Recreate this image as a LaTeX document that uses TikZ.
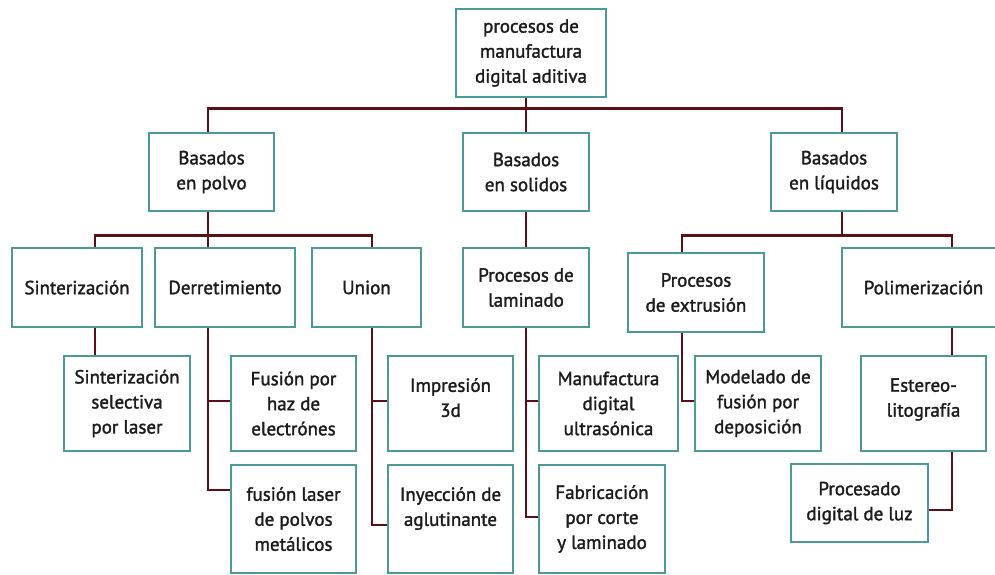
\documentclass[tikz,border=0pt]{standalone}
\usepackage{fontspec}
\setmainfont{PT Sans}[FakeBold=1.6]
\definecolor{boxteal}{HTML}{4A9B98}
\definecolor{linered}{HTML}{5A1016}
\definecolor{txt}{HTML}{1C1C1C}
\begin{document}
\begin{tikzpicture}[x=1pt,y=-1pt,
  box/.style={draw=boxteal, line width=2.6pt, fill=white, inner sep=0pt, align=center,
    text=txt, font=\fontsize{19}{25}\selectfont},
  conn/.style={draw=linered, line width=2.6pt}]
\useasboundingbox[fill=white] (0,0) rectangle (995,575);
% nodes
\node[box, minimum width=150, minimum height=88] (root) at (531,53) {procesos de\\manufactura\\digital aditiva};
\node[box, minimum width=125, minimum height=78] (polvo) at (211.5,172) {Basados\\en polvo};
\node[box, minimum width=126, minimum height=78] (solidos) at (526,172) {Basados\\en solidos};
\node[box, minimum width=126, minimum height=78] (liquidos) at (834,172) {Basados\\en líquidos};
\node[box, minimum width=130, minimum height=79] (sint) at (77,287.5) {Sinterización};
\node[box, minimum width=140, minimum height=79] (derr) at (225,287.5) {Derretimiento};
\node[box, minimum width=109, minimum height=79] (union) at (366.5,287.5) {Union};
\node[box, minimum width=126, minimum height=79] (lamin) at (526,287.5) {Procesos de\\laminado};
\node[box, minimum width=136, minimum height=79] (extr) at (696,292.5) {Procesos\\de extrusión};
\node[box, minimum width=168, minimum height=79] (polim) at (926,287.5) {Polimerización\hspace*{5pt}};
\node[box, minimum width=126, minimum height=95] (sls) at (127,403.5) {Sinterización\\selectiva\\por laser};
\node[box, minimum width=125, minimum height=95] (haz) at (293.5,403.5) {Fusión por\\haz de\\electrónes};
\node[box, minimum width=125, minimum height=108] (laser) at (293.5,519) {fusión laser\\de polvos\\metálicos};
\node[box, minimum width=125, minimum height=95] (impr) at (450.5,403.5) {Impresión\\3d\\[-13pt]~};
\node[box, minimum width=125, minimum height=108] (iny) at (450.5,519) {Inyección de\\aglutinante\\~};
\node[box, minimum width=139, minimum height=95] (manu) at (608.5,403.5) {Manufactura\\digital\\ultrasónica};
\node[box, minimum width=126, minimum height=108] (fabr) at (602,519) {Fabricación\\por corte\\y laminado};
\node[box, minimum width=126, minimum height=95] (model) at (758,403.5) {Modelado de\\fusión por\\deposición};
\node[box, minimum width=125, minimum height=95] (ester) at (923.5,403.5) {Estereo-\\litografía\\[-13pt]~};
\node[box, minimum width=137, minimum height=78] (proc) at (859.5,503) {Procesado\\digital de luz};
% connectors
\draw[conn] ([xshift=-3.5pt]polvo.north) |- ([yshift=-10pt]root.south) -| ([xshift=8pt]liquidos.north);
\draw[conn] (solidos.north) -- (solidos.north |- root.south);
\draw[conn] ([xshift=18pt]sint.north) |- ([yshift=-23pt]polvo.south) -| ([xshift=5.5pt]union.north);
\draw[conn] ([xshift=-3.5pt]polvo.south) -- ([xshift=-17pt]derr.north);
\draw[conn] (solidos.south) -- (lamin.north);
\draw[conn] ([xshift=-14pt]extr.north) |- ([yshift=-23pt]liquidos.south) -| ([xshift=26pt]polim.north);
\draw[conn] ([xshift=8pt]liquidos.south) -- ([xshift=8pt,yshift=-23pt]liquidos.south);
\draw[conn] ([xshift=18pt]sint.south) -- ([xshift=-32pt]sls.north);
\draw[conn] ([xshift=-17pt]derr.south) |- ([yshift=29pt]laser.west);
\draw[conn] ([yshift=2.5pt]haz.west) -| ([xshift=-17pt]derr.south);
\draw[conn] ([xshift=5.5pt]union.south) |- ([yshift=-6pt]iny.west);
\draw[conn] ([yshift=2.5pt]impr.west) -| ([xshift=5.5pt]union.south);
\draw[conn] (lamin.south) |- ([yshift=2pt]fabr.west);
\draw[conn] ([yshift=2.5pt]manu.west) -| (lamin.south);
\draw[conn] ([xshift=-14pt]extr.south) |- ([yshift=2.5pt]model.west);
\draw[conn] ([xshift=26pt]polim.south) -- ([xshift=28.5pt]ester.north);
\draw[conn] ([xshift=28.5pt]ester.south) |- ([yshift=-7pt]proc.east);
\end{tikzpicture}
\end{document}
